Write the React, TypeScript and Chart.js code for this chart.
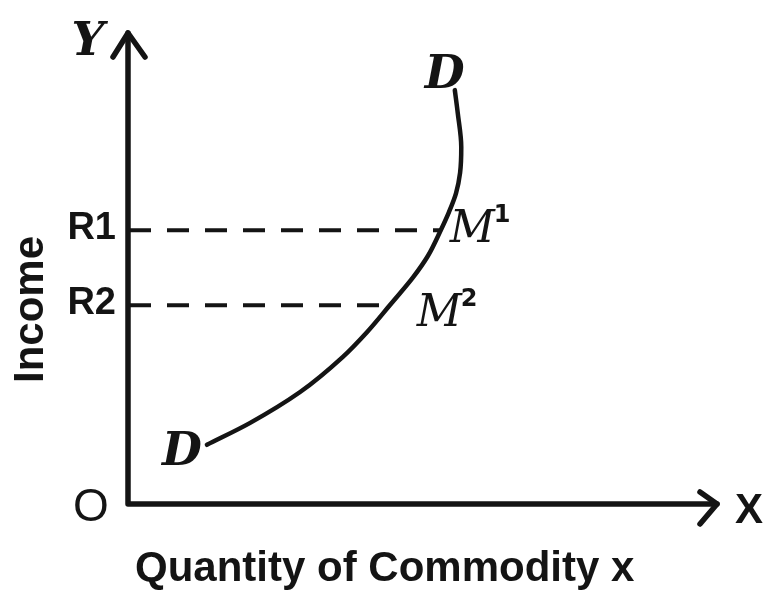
import React, { useEffect, useRef } from "react";
import { Chart, registerables } from "chart.js";

Chart.register(...registerables);

// Income–consumption (Engel) curve D–D: quantity of x bought at each income level.
const curveQuantity = [13.3, 20.6, 29.2, 36.5, 40.6, 44.5, 48.5, 51.0, 53.2, 54.6, 55.8, 56.5, 56.7, 56.1, 55.6];
const curveIncome = [10.1, 13.8, 19.1, 25.1, 29.3, 33.9, 38.7, 42.3, 46.7, 49.8, 53.0, 56.5, 60.9, 66.7, 70.6];

// Income levels marked on the vertical axis and the matching points on the curve.
const incomeLabels = ["R1", "R2"];
const incomeLevels = [46.7, 33.9];
const pointLabels = ["1", "2"];
const pointQuantity = [53.2, 44.5];

const X_MAX = 100;
const Y_MAX = 80;

const INK = "#141414";

const diagramPlugin = {
  id: "incomeDiagram",
  afterDraw(chart: any) {
    const { ctx } = chart;
    const xs = chart.scales.x;
    const ys = chart.scales.y;
    const x0 = xs.getPixelForValue(0);
    const y0 = ys.getPixelForValue(0);
    const xEnd = xs.getPixelForValue(X_MAX);
    const yTop = ys.getPixelForValue(Y_MAX);

    ctx.save();
    ctx.strokeStyle = INK;
    ctx.fillStyle = INK;
    ctx.lineWidth = 5.5;
    ctx.lineCap = "round";
    ctx.lineJoin = "round";

    // axes
    ctx.beginPath();
    ctx.moveTo(x0 - 1, yTop - 2);
    ctx.lineTo(x0 - 1, y0);
    ctx.lineTo(xEnd + 2, y0);
    ctx.stroke();

    // arrow heads
    ctx.beginPath();
    ctx.moveTo(x0 - 16, yTop + 22);
    ctx.lineTo(x0 - 1, yTop - 2);
    ctx.lineTo(x0 + 16, yTop + 22);
    ctx.stroke();
    ctx.beginPath();
    ctx.moveTo(xEnd - 15, y0 - 12);
    ctx.lineTo(xEnd + 2, y0);
    ctx.lineTo(xEnd - 15, y0 + 20);
    ctx.stroke();

    // axis letters
    ctx.textBaseline = "alphabetic";
    ctx.textAlign = "center";
    ctx.font = 'italic bold 46px "DejaVu Serif"';
    ctx.fillText("Y", x0 - 41, yTop + 20);
    ctx.font = 'bold 42px "Liberation Sans"';
    ctx.textAlign = "left";
    ctx.fillText("X", xEnd + 20, y0 + 19);
    ctx.font = '46px "Liberation Sans"';
    ctx.textAlign = "center";
    ctx.fillText("O", x0 - 38, y0 + 17);

    // income level labels
    ctx.font = 'bold 38px "Liberation Sans"';
    ctx.textAlign = "right";
    incomeLabels.forEach((lab, i) => {
      const py = ys.getPixelForValue(incomeLevels[i]);
      ctx.fillText(lab, x0 - 13, py + 9);
    });

    // axis titles
    ctx.font = 'bold 42px "Liberation Sans"';
    ctx.textAlign = "left";
    ctx.fillText("Quantity of Commodity x", 135, 581);
    ctx.save();
    ctx.translate(43, 383);
    ctx.rotate(-Math.PI / 2);
    ctx.fillText("Income", 0, 0);
    ctx.restore();

    // curve end labels
    ctx.font = 'italic bold 46px "DejaVu Serif"';
    const n = curveQuantity.length;
    const topX = xs.getPixelForValue(curveQuantity[n - 1]);
    const topY = ys.getPixelForValue(curveIncome[n - 1]);
    ctx.textAlign = "left";
    ctx.fillText("D", topX - 30, topY - 2);
    const botX = xs.getPixelForValue(curveQuantity[0]);
    const botY = ys.getPixelForValue(curveIncome[0]);
    ctx.fillText("D", botX - 45, botY + 20);

    // points on the curve
    pointLabels.forEach((lab, i) => {
      const px = xs.getPixelForValue(pointQuantity[i]);
      const py = ys.getPixelForValue(incomeLevels[i]);
      const mx = i === 0 ? px + 9 : px + 27;
      const my = i === 0 ? py + 12 : py + 21;
      ctx.font = 'italic 44px "DejaVu Serif"';
      ctx.fillText("M", mx, my);
      ctx.font = 'bold 24px "DejaVu Sans"';
      ctx.fillText(lab, mx + 44, my - 20);
    });

    ctx.restore();
  },
};

export default function App() {
  const ref = useRef<HTMLCanvasElement | null>(null);

  useEffect(() => {
    if (!ref.current) return;
    const curve = curveQuantity.map((q, i) => ({ x: q, y: curveIncome[i] }));
    const guides = incomeLevels.map((r, i) => ({
      type: "line" as const,
      data: [
        { x: 0, y: r },
        { x: pointQuantity[i], y: r },
      ],
      borderColor: INK,
      borderWidth: 4,
      borderDash: [22, 16],
      pointRadius: 0,
      tension: 0,
    }));

    const chart = new Chart(ref.current, {
      type: "scatter",
      data: {
        datasets: [
          {
            type: "line",
            data: curve,
            indexAxis: "y",
            cubicInterpolationMode: "monotone",
            borderColor: INK,
            borderWidth: 4.5,
            pointRadius: 0,
            borderCapStyle: "round",
          },
          ...guides,
        ] as any,
      },
      options: {
        responsive: false,
        animation: false,
        devicePixelRatio: 1,
        layout: { padding: { left: 129, top: 35, right: 49, bottom: 91 } },
        plugins: {
          legend: { display: false },
          tooltip: { enabled: false },
        },
        scales: {
          x: { type: "linear", min: 0, max: X_MAX, display: false },
          y: { type: "linear", min: 0, max: Y_MAX, display: false },
        },
      },
      plugins: [diagramPlugin],
    });
    return () => chart.destroy();
  }, []);

  return (
    <div style={{ position: "fixed", left: 0, top: 0, width: 764, height: 595, background: "#fff" }}>
      <canvas ref={ref} width={764} height={595} />
    </div>
  );
}
